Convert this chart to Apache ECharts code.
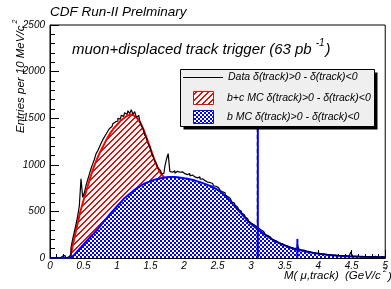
<!DOCTYPE html>
<html><head><meta charset="utf-8">
<script src="https://cdn.jsdelivr.net/npm/echarts@6/dist/echarts.min.js"></script>
<style>html,body{margin:0;padding:0;background:#fff}#c{width:391px;height:289px}</style>
</head><body><div id="c"></div>
<script>
// ---- data ----
const mcBinWidth = 0.05;      // GeV/c^2 per MC point, starting at 0
const bcMC = [ // b+c MC, x = 0.00 .. 1.80
  0,0,0,0,0,0,0,170,330,490,
  620,740,860,970,1060,1140,1210,1280,1340,1390,
  1430,1470,1500,1525,1540,1530,1500,1450,1370,1270,
  1170,1070,980,910,865,866,868
];
const bMC = [ // b MC, x = 0.00 .. 5.00
  0,0,0,0,0,0,0,25,65,105,
  145,185,225,262,300,345,390,430,475,515,
  555,595,635,665,695,725,750,775,795,812,
  825,838,848,856,862,866,868,868,866,862,
  856,850,842,834,822,810,798,785,770,752,
  732,705,675,640,600,560,520,480,440,400,
  365,335,305,280,255,230,205,185,165,150,
  135,120,108,97,88,80,72,65,58,52,
  47,42,37,33,30,27,24,22,20,18,
  16,15,14,13,12,11,10,10,9,9,
  8
];
const dataBinWidth = 0.025;   // data points, starting at 0
const dataVals = [
  0,0,0,0,5,0,0,20,0,25,0,10,30,110,200,280,360,450,560,850,
  650,700,780,840,900,960,1010,1060,1120,1150,1190,1230,1270,1300,1330,1360,1390,1410,1440,1460,
  1470,1500,1490,1530,1520,1560,1540,1580,1550,1590,1540,1570,1510,1530,1470,1420,1390,1320,1290,1230,
  1200,1130,1090,1040,1010,960,940,900,910,980,1060,1120,930,920,935,910,930,920,915,925,
  905,910,895,905,880,890,870,880,860,870,845,850,830,835,815,810,795,800,775,770,
  755,740,725,710,700,675,660,640,625,600,590,565,545,520,505,480,465,440,420,395,
  375,360,345,340,320,330,300,285,270,250,240,225,215,200,190,180,170,160,152,145,
  140,130,125,118,112,105,100,110,150,95,88,84,78,74,70,66,62,58,55,52,
  50,47,45,42,40,38,36,34,32,31,30,28,27,26,25,24,23,22,21,20,
  65,19,18,17,25,16,15,22,14,13,20,12,12,11,18,10,10,9,15,8,
  8
];
// resonance peaks (J/psi, psi(2S))
const peakX = [3.10, 3.69];
const peakMC = [1800, 205];
const peakDataX = [3.092, 3.69];
const peakData = [1700, 150];
const xTicks = [0, 5, 0.5];   // min, max, interval
const yTicks = [0, 2500, 500];

// ---- patterns ----
function hatch() {
  const c = document.createElement('canvas'); c.width = 6; c.height = 6;
  const g = c.getContext('2d'); g.fillStyle = '#fff'; g.fillRect(0,0,6,6);
  g.fillStyle = '#ff0000';
  for (let i = 0; i < 6; i++) { g.fillRect(i, 5 - i, 2, 1); }
  g.fillRect(0, 0, 1, 1);
  return c;
}
function checker() {
  const c = document.createElement('canvas'); c.width = 4; c.height = 4;
  const g = c.getContext('2d'); g.fillStyle = '#fff'; g.fillRect(0,0,4,4);
  g.fillStyle = '#0000ff'; g.fillRect(0,0,2,2); g.fillRect(2,2,2,2);
  return c;
}
const hatchPat = { image: hatch(), repeat: 'repeat' };
const checkPat = { image: checker(), repeat: 'repeat' };

const bcSeries = bcMC.map((v, i) => [+(i * mcBinWidth).toFixed(3), v]);
const bSeries = bMC.map((v, i) => [+(i * mcBinWidth).toFixed(3), v]);
const dSeries = dataVals.map((v, i) => [+(i * dataBinWidth).toFixed(3), v]);

const FONT = '"Liberation Sans", Arial, sans-serif';
const mctx = document.createElement('canvas').getContext('2d');
function tw(t, f) { mctx.font = f; return mctx.measureText(t).width; }

const series = [
  { type: 'line', data: bcSeries, showSymbol: false, z: 2,
    lineStyle: { color: '#ff0000', width: 2 }, areaStyle: { color: hatchPat, opacity: 1 } },
  { type: 'line', data: bSeries, showSymbol: false, z: 3,
    lineStyle: { color: '#0000ff', width: 2 }, areaStyle: { color: checkPat, opacity: 1 } },
  { type: 'line', data: dSeries, showSymbol: false, step: 'middle', z: 4,
    lineStyle: { color: '#000', width: 1.2 } }
];
peakDataX.forEach((x, k) => series.push({ type: 'line', showSymbol: false, z: 4,
  data: [[x, 0], [x, peakData[k]]], lineStyle: { color: '#000', width: 1, type: [4, 3] } }));
peakX.forEach((x, k) => series.push({ type: 'line', showSymbol: false, z: 5,
  data: [[x, 0], [x, peakMC[k]]], lineStyle: { color: '#0000ff', width: 2 } }));

const fT = 'italic 13.5px ' + FONT;
const fM = 'italic 15px ' + FONT;
const fS = 'italic 10px ' + FONT;
const fL = 'italic 10.5px ' + FONT;
const fA = 'italic 11.5px ' + FONT;
const fA2 = 'italic 7px ' + FONT;
const muTxt = 'muon+displaced track trigger (63 pb';
const muW = tw(muTxt, fM);
const supW = tw('-1', fS);
const yTitle = 'Entries per 10 MeV/c';
const yW = tw(yTitle, fA);

function txt(x, y, text, font, extra) {
  return Object.assign({ type: 'text', x: x, y: y, z: 100,
    style: { text: text, font: font, fill: '#000', textAlign: 'left', align: 'left',
      textVerticalAlign: 'middle', verticalAlign: 'middle' } }, extra || {});
}

const graphics = [
  txt(50, 12.5, 'CDF Run-II Prelminary', fT),
  txt(72, 50, muTxt, fM),
  txt(72 + muW + 4, 43, '-1', fS),
  txt(72 + muW + 5 + supW, 50, ')', fM),
  txt(21, 133, yTitle, fA, { rotation: Math.PI / 2 }),
  txt(15, 133 - yW - 2, '2', fA2, { rotation: Math.PI / 2 }),
  txt(284, 276, 'M( \u03bc,track)', fA),
  txt(345, 276, '(GeV/c', fA),
  txt(383, 270, '2', fA2),
  txt(388, 277, ')', fA),
  // legend
  { type: 'rect', z: 100, shape: { x: 183.5, y: 72.5, width: 194, height: 57 }, style: { fill: '#000' } },
  { type: 'rect', z: 101, shape: { x: 180.5, y: 69.5, width: 194, height: 57 }, style: { fill: '#efefef', stroke: '#000', lineWidth: 1 } },
  { type: 'line', z: 102, shape: { x1: 183, y1: 77.5, x2: 223, y2: 77.5 }, style: { stroke: '#000', lineWidth: 1 } },
  { type: 'rect', z: 102, shape: { x: 193.5, y: 91.5, width: 20, height: 13 }, style: { fill: hatchPat, stroke: '#ff0000', lineWidth: 1 } },
  { type: 'rect', z: 102, shape: { x: 193.5, y: 110.5, width: 20, height: 13 }, style: { fill: checkPat, stroke: '#0000ff', lineWidth: 1 } },
  txt(228, 77.5, 'Data \u03b4(track)>0 - \u03b4(track)<0', fL, { z: 103 }),
  txt(227, 98, 'b+c MC \u03b4(track)>0 - \u03b4(track)<0', fL, { z: 103 }),
  txt(227, 117, 'b MC \u03b4(track)>0 - \u03b4(track)<0', fL, { z: 103 })
];

const chart = echarts.init(document.getElementById('c'), null, { renderer: 'canvas' });
chart.setOption({
  animation: false,
  grid: { left: 50, right: -1, top: 25, bottom: 31, show: true, borderColor: '#000', borderWidth: 1, backgroundColor: 'transparent' },
  xAxis: { type: 'value', min: xTicks[0], max: xTicks[1], interval: xTicks[2],
    axisLine: { lineStyle: { color: '#000', width: 1 } },
    axisTick: { inside: true, length: 8, lineStyle: { color: '#000' } },
    minorTick: { show: true, splitNumber: 5, length: 4, lineStyle: { color: '#000' } },
    splitLine: { show: false },
    axisLabel: { fontSize: 10, fontStyle: 'italic', fontFamily: FONT, color: '#000', margin: 3, showMaxLabel: true,
      formatter: (v) => String(v) } },
  yAxis: { type: 'value', min: yTicks[0], max: yTicks[1], interval: yTicks[2],
    axisLine: { show: true, lineStyle: { color: '#000', width: 1 } },
    axisTick: { show: true, inside: true, length: 9, lineStyle: { color: '#000' } },
    minorTick: { show: true, splitNumber: 5, length: 5, lineStyle: { color: '#000' } },
    splitLine: { show: false },
    axisLabel: { fontSize: 10, fontStyle: 'italic', fontFamily: FONT, color: '#000', margin: 5,
      formatter: (v) => String(v) } },
  series: series,
  graphic: graphics
});
</script></body></html>
